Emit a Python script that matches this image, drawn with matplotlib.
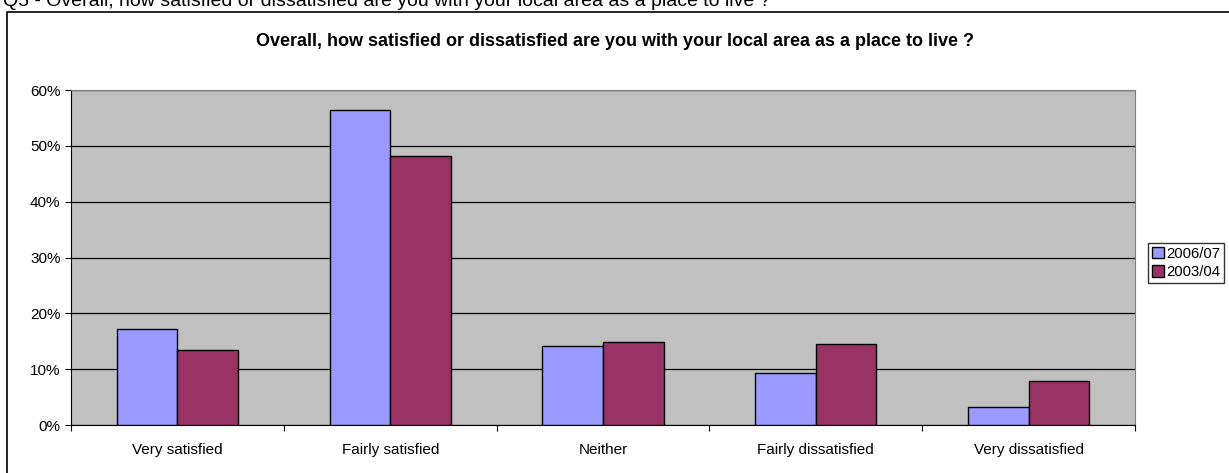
import matplotlib
matplotlib.use('Agg')
import matplotlib.pyplot as plt
from matplotlib.patches import Rectangle
import matplotlib.ticker as ticker
import numpy as np

plt.rcParams['font.family'] = ['Liberation Sans', 'DejaVu Sans']

categories = ['Very satisfied', 'Fairly satisfied', 'Neither',
              'Fairly dissatisfied', 'Very dissatisfied']
series_names = ['2006/07', '2003/04']
v2006 = [17.2, 56.4, 14.1, 9.4, 3.2]
v2003 = [13.4, 48.1, 14.9, 14.5, 7.9]
colors = ['#9999FF', '#993366']

fig = plt.figure(figsize=(12.29, 4.73), dpi=100)

# outer chart frame (top and left edges visible)
fig.patches.append(Rectangle((7 / 1229, -0.05), 1.2, 1 - 12 / 473 + 0.05,
                             transform=fig.transFigure, fill=False,
                             edgecolor='black', linewidth=1.2))

fig.text(3 / 1229, 1 - 6 / 473, 'Q5 - Overall, how satisfied or dissatisfied are you with your local area as a place to live ?',
         fontsize=14, va='baseline', ha='left')

ax = fig.add_axes([71 / 1229, 1 - 425 / 473, (1135 - 71) / 1229, (425 - 90) / 473])
ax.set_facecolor('#C0C0C0')

x = np.arange(len(categories))
w = 0.285
ax.bar(x - w / 2, v2006, w, color=colors[0], edgecolor='black', linewidth=1, label=series_names[0], zorder=3)
ax.bar(x + w / 2, v2003, w, color=colors[1], edgecolor='black', linewidth=1, label=series_names[1], zorder=3)

ax.set_xlim(-0.5, len(categories) - 0.5)
ax.set_ylim(0, 60)
ax.yaxis.set_major_locator(ticker.MultipleLocator(10))
ax.yaxis.set_major_formatter(ticker.FuncFormatter(lambda v, p: '%d%%' % v))
ax.grid(axis='y', color='black', linewidth=0.9, zorder=1)

ax.set_xticks(np.arange(-0.5, len(categories), 1))
ax.set_xticklabels([])
ax.set_xticks(x, minor=True)
ax.set_xticklabels(categories, minor=True, fontsize=11)
ax.tick_params(axis='x', which='minor', length=0, pad=13)
ax.tick_params(axis='x', which='major', length=4, direction='out', width=0.8)
ax.tick_params(axis='y', length=4, direction='out', labelsize=11, width=0.8)

for s in ['top', 'right']:
    ax.spines[s].set_color('#808080')
for s in ['left', 'bottom']:
    ax.spines[s].set_color('black')

fig.text(0.5, 1 - 42 / 473,
         'Overall, how satisfied or dissatisfied are you with your local area as a place to live ?',
         fontsize=13, fontweight='bold', ha='center', va='center')

fig.legend(loc='center left', bbox_to_anchor=(1148 / 1229, 1 - 263 / 473),
           fontsize=10.7, frameon=True, fancybox=False, edgecolor='black',
           handlelength=0.8, handleheight=0.8, handletextpad=0.2,
           borderpad=0.25, labelspacing=0.3, borderaxespad=0)

fig.savefig('out.png', dpi=100)
